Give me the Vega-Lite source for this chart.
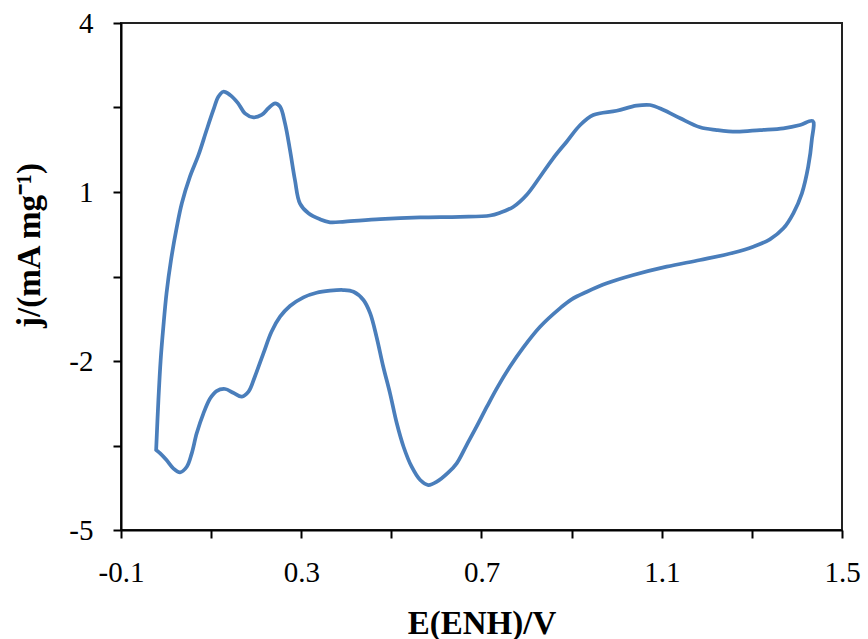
{
  "$schema": "https://vega.github.io/schema/vega-lite/v6.json",
  "autosize": {"type": "none"},
  "padding": {"left": 121, "top": 23, "right": 26, "bottom": 109},
  "width": 721,
  "height": 507,
  "background": "white",
  "config": {
    "view": {"stroke": "#222222", "strokeWidth": 2},
    "font": "Times New Roman"
  },
  "data": {
    "values": [
      {"i": 1, "E": -0.022, "j": -3.580},
      {"i": 2, "E": -0.017, "j": -2.693},
      {"i": 3, "E": -0.012, "j": -1.983},
      {"i": 4, "E": -0.006, "j": -1.391},
      {"i": 5, "E": 0.001, "j": -0.799},
      {"i": 6, "E": 0.011, "j": -0.207},
      {"i": 7, "E": 0.024, "j": 0.384},
      {"i": 8, "E": 0.035, "j": 0.799},
      {"i": 9, "E": 0.053, "j": 1.271},
      {"i": 10, "E": 0.072, "j": 1.657},
      {"i": 11, "E": 0.090, "j": 2.100},
      {"i": 12, "E": 0.105, "j": 2.456},
      {"i": 13, "E": 0.116, "j": 2.692},
      {"i": 14, "E": 0.127, "j": 2.780},
      {"i": 15, "E": 0.142, "j": 2.722},
      {"i": 16, "E": 0.160, "j": 2.574},
      {"i": 17, "E": 0.175, "j": 2.397},
      {"i": 18, "E": 0.194, "j": 2.326},
      {"i": 19, "E": 0.212, "j": 2.367},
      {"i": 20, "E": 0.227, "j": 2.486},
      {"i": 21, "E": 0.242, "j": 2.574},
      {"i": 22, "E": 0.253, "j": 2.514},
      {"i": 23, "E": 0.264, "j": 2.219},
      {"i": 24, "E": 0.275, "j": 1.745},
      {"i": 25, "E": 0.286, "j": 1.213},
      {"i": 26, "E": 0.297, "j": 0.799},
      {"i": 27, "E": 0.316, "j": 0.622},
      {"i": 28, "E": 0.342, "j": 0.515},
      {"i": 29, "E": 0.364, "j": 0.462},
      {"i": 30, "E": 0.397, "j": 0.476},
      {"i": 31, "E": 0.475, "j": 0.520},
      {"i": 32, "E": 0.564, "j": 0.550},
      {"i": 33, "E": 0.652, "j": 0.560},
      {"i": 34, "E": 0.719, "j": 0.583},
      {"i": 35, "E": 0.741, "j": 0.632},
      {"i": 36, "E": 0.771, "j": 0.739},
      {"i": 37, "E": 0.800, "j": 0.947},
      {"i": 38, "E": 0.830, "j": 1.271},
      {"i": 39, "E": 0.859, "j": 1.598},
      {"i": 40, "E": 0.889, "j": 1.893},
      {"i": 41, "E": 0.919, "j": 2.189},
      {"i": 42, "E": 0.948, "j": 2.367},
      {"i": 43, "E": 1.000, "j": 2.443},
      {"i": 44, "E": 1.044, "j": 2.532},
      {"i": 45, "E": 1.074, "j": 2.544},
      {"i": 46, "E": 1.104, "j": 2.456},
      {"i": 47, "E": 1.141, "j": 2.308},
      {"i": 48, "E": 1.185, "j": 2.148},
      {"i": 49, "E": 1.222, "j": 2.100},
      {"i": 50, "E": 1.266, "j": 2.070},
      {"i": 51, "E": 1.318, "j": 2.100},
      {"i": 52, "E": 1.370, "j": 2.131},
      {"i": 53, "E": 1.407, "j": 2.189},
      {"i": 54, "E": 1.435, "j": 2.260},
      {"i": 55, "E": 1.433, "j": 1.923},
      {"i": 56, "E": 1.425, "j": 1.449},
      {"i": 57, "E": 1.411, "j": 0.977},
      {"i": 58, "E": 1.392, "j": 0.622},
      {"i": 59, "E": 1.370, "j": 0.355},
      {"i": 60, "E": 1.340, "j": 0.160},
      {"i": 61, "E": 1.303, "j": 0.029},
      {"i": 62, "E": 1.259, "j": -0.078},
      {"i": 63, "E": 1.185, "j": -0.207},
      {"i": 64, "E": 1.111, "j": -0.326},
      {"i": 65, "E": 1.037, "j": -0.474},
      {"i": 66, "E": 0.978, "j": -0.621},
      {"i": 67, "E": 0.934, "j": -0.770},
      {"i": 68, "E": 0.900, "j": -0.905},
      {"i": 69, "E": 0.874, "j": -1.065},
      {"i": 70, "E": 0.830, "j": -1.391},
      {"i": 71, "E": 0.793, "j": -1.757},
      {"i": 72, "E": 0.763, "j": -2.102},
      {"i": 73, "E": 0.734, "j": -2.485},
      {"i": 74, "E": 0.712, "j": -2.812},
      {"i": 75, "E": 0.689, "j": -3.167},
      {"i": 76, "E": 0.667, "j": -3.492},
      {"i": 77, "E": 0.645, "j": -3.816},
      {"i": 78, "E": 0.626, "j": -3.983},
      {"i": 79, "E": 0.601, "j": -4.143},
      {"i": 80, "E": 0.582, "j": -4.202},
      {"i": 81, "E": 0.564, "j": -4.113},
      {"i": 82, "E": 0.545, "j": -3.877},
      {"i": 83, "E": 0.527, "j": -3.522},
      {"i": 84, "E": 0.512, "j": -3.106},
      {"i": 85, "E": 0.497, "j": -2.574},
      {"i": 86, "E": 0.482, "j": -2.102},
      {"i": 87, "E": 0.467, "j": -1.569},
      {"i": 88, "E": 0.453, "j": -1.154},
      {"i": 89, "E": 0.438, "j": -0.917},
      {"i": 90, "E": 0.416, "j": -0.770},
      {"i": 91, "E": 0.393, "j": -0.740},
      {"i": 92, "E": 0.364, "j": -0.752},
      {"i": 93, "E": 0.334, "j": -0.788},
      {"i": 94, "E": 0.305, "j": -0.870},
      {"i": 95, "E": 0.275, "j": -1.024},
      {"i": 96, "E": 0.253, "j": -1.214},
      {"i": 97, "E": 0.234, "j": -1.480},
      {"i": 98, "E": 0.216, "j": -1.864},
      {"i": 99, "E": 0.197, "j": -2.279},
      {"i": 100, "E": 0.183, "j": -2.545},
      {"i": 101, "E": 0.168, "j": -2.634},
      {"i": 102, "E": 0.149, "j": -2.563},
      {"i": 103, "E": 0.131, "j": -2.497},
      {"i": 104, "E": 0.112, "j": -2.533},
      {"i": 105, "E": 0.098, "j": -2.663},
      {"i": 106, "E": 0.083, "j": -2.929},
      {"i": 107, "E": 0.068, "j": -3.284},
      {"i": 108, "E": 0.057, "j": -3.639},
      {"i": 109, "E": 0.046, "j": -3.877},
      {"i": 110, "E": 0.031, "j": -3.976},
      {"i": 111, "E": 0.016, "j": -3.905},
      {"i": 112, "E": 0.001, "j": -3.758},
      {"i": 113, "E": -0.013, "j": -3.639},
      {"i": 114, "E": -0.022, "j": -3.580}
    ]
  },
  "mark": {"type": "line", "color": "#4A7EBB", "strokeWidth": 3.75, "interpolate": "catmull-rom", "strokeJoin": "round", "strokeCap": "round", "clip": true},
  "encoding": {
    "order": {"field": "i", "type": "quantitative"},
    "x": {
      "field": "E", "type": "quantitative",
      "scale": {"domain": [-0.1, 1.5], "nice": false, "zero": false},
      "axis": {
        "title": "E(ENH)/V",
        "values": [-0.1, 0.1, 0.3, 0.5, 0.7, 0.9, 1.1, 1.3, 1.5],
        "labelExpr": "abs((datum.value + 0.1) / 0.4 - round((datum.value + 0.1) / 0.4)) < 0.01 ? '' + round(datum.value * 10) / 10 : ''",
        "grid": false,
        "domainColor": "black", "domainWidth": 2,
        "tickColor": "black", "tickWidth": 2, "tickSize": 8,
        "labelFont": "Liberation Serif, Times New Roman, serif", "labelFontSize": 29, "labelColor": "black", "labelPadding": 20,
        "labelFlush": false, "labelOverlap": false,
        "titleFont": "Liberation Serif, Times New Roman, serif", "titleFontSize": 33, "titleFontWeight": "bold", "titleColor": "black", "titlePadding": 20
      }
    },
    "y": {
      "field": "j", "type": "quantitative",
      "scale": {"domain": [-5, 4], "nice": false, "zero": false},
      "axis": {
        "title": "j/(mA mg⁻¹)",
        "titleY": 222,
        "values": [-5, -3.5, -2, -0.5, 1, 2.5, 4],
        "labelExpr": "abs((datum.value + 5) / 3 - round((datum.value + 5) / 3)) < 0.01 ? '' + round(datum.value) : ''",
        "grid": false,
        "domainColor": "black", "domainWidth": 2,
        "tickColor": "black", "tickWidth": 2, "tickSize": 8,
        "labelFont": "Liberation Serif, Times New Roman, serif", "labelFontSize": 29, "labelColor": "black", "labelPadding": 20,
        "labelFlush": false, "labelOverlap": false,
        "titleFont": "Liberation Serif, Times New Roman, serif", "titleFontSize": 33, "titleFontWeight": "bold", "titleColor": "black", "titlePadding": 22
      }
    }
  }
}
